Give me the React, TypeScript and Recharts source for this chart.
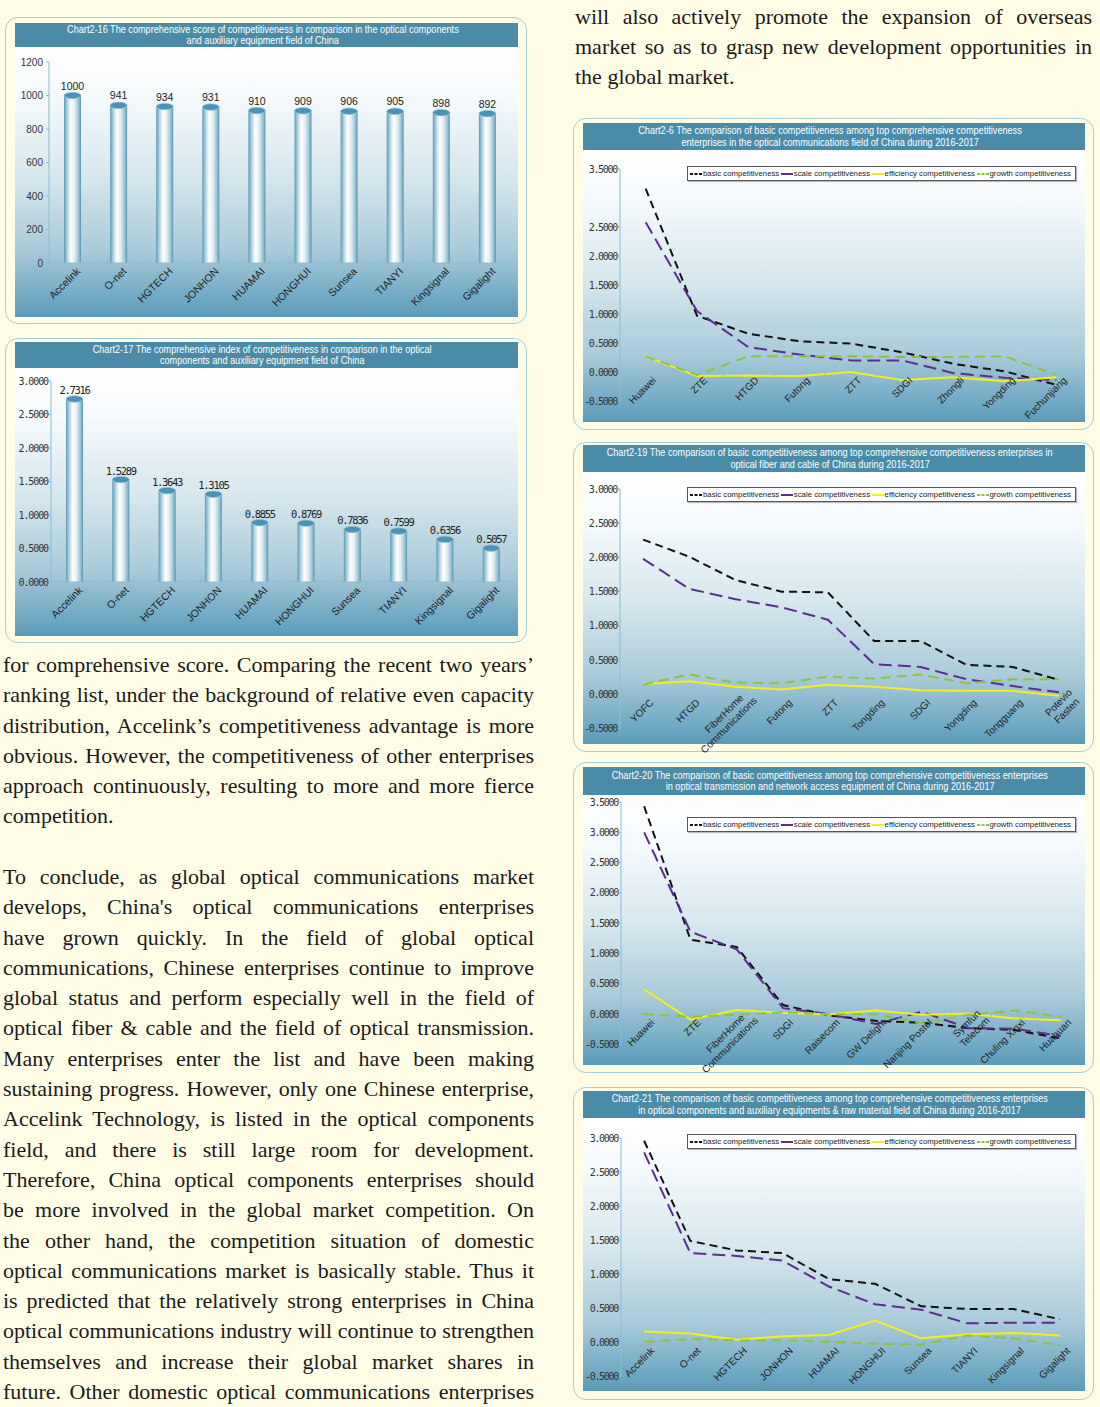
import React from "react";
import {
  BarChart,
  Bar,
  LineChart,
  Line,
  XAxis,
  YAxis,
  ReferenceLine,
  Legend,
} from "recharts";

const PAGE_BG = "#fffde6";
const TITLE_BG = "#4a8ca8";
const AXIS = "#8dbdd0";
const SANS = '"Liberation Sans", Arial, sans-serif';
const MONO = '"DejaVu Sans Mono", monospace';
const SERIF = '"Liberation Serif", "Times New Roman", serif';
const PLOT_BG =
  "linear-gradient(to bottom, #ffffff 0%, #f6fafc 18%, #d6e7ee 48%, #a9cbda 75%, #5b9bb9 100%)";

// ---- chart 2-16 / 2-17: optical components field ----
const componentFirms = ["Accelink", "O-net", "HGTECH", "JONHON", "HUAMAI", "HONGHUI", "Sunsea", "TIANYI", "Kingsignal", "Gigalight"];
const compositeScore = [1000, 941, 934, 931, 910, 909, 906, 905, 898, 892];
const compositeIndex = [2.7316, 1.5289, 1.3643, 1.3105, 0.8855, 0.8769, 0.7836, 0.7599, 0.6356, 0.5057];
const scoreTicks = [0, 200, 400, 600, 800, 1000, 1200];
const indexTicks = [0, 0.5, 1, 1.5, 2, 2.5, 3];

// ---- basic competitiveness series (charts 2-6, 2-19, 2-20, 2-21) ----
const seriesKeys = ["basic", "scale", "efficiency", "growth"];
const seriesNames = ["basic competitiveness", "scale competitiveness", "efficiency competitiveness", "growth competitiveness"];

// chart 2-6
const commFirms = ["Huawei", "ZTE", "HTGD", "Futong", "ZTT", "SDGI", "Zhongli", "Yongding", "Fuchunjiang"];
const commBasic = [3.16, 0.97, 0.66, 0.53, 0.49, 0.34, 0.14, 0.01, -0.22];
const commScale = [2.58, 1.05, 0.43, 0.3, 0.2, 0.2, -0.02, -0.1, -0.14];
const commEfficiency = [0.27, -0.07, -0.06, -0.07, 0.0, -0.14, -0.09, -0.16, -0.09];
const commGrowth = [0.27, -0.05, 0.27, 0.27, 0.27, 0.26, 0.26, 0.27, -0.05];
const commTicks = [-0.5, 0, 0.5, 1, 1.5, 2, 2.5, 3.5];

// chart 2-19
const fiberFirms = ["YOFC", "HTGD", "FiberHome\nCommunications", "Futong", "ZTT", "Tongding", "SDGI", "Yongding", "Tongguang", "Potevio\nFasten"];
const fiberBasic = [2.26, 2.01, 1.67, 1.5, 1.49, 0.78, 0.78, 0.43, 0.4, 0.21];
const fiberScale = [1.98, 1.54, 1.39, 1.27, 1.09, 0.44, 0.4, 0.22, 0.12, 0.03];
const fiberEfficiency = [0.15, 0.19, 0.11, 0.07, 0.14, 0.11, 0.06, 0.05, 0.05, -0.02];
const fiberGrowth = [0.14, 0.29, 0.17, 0.16, 0.26, 0.23, 0.29, 0.16, 0.22, 0.22];
const threeTicks = [-0.5, 0, 0.5, 1, 1.5, 2, 2.5, 3];

// chart 2-20
const transFirms = ["Huawei", "ZTE", "FiberHome\nCommunications", "SDGI", "Raisecom", "GW Delight", "Nanjing Postel", "Symfun\nTelecom", "Chuling Xinxi", "Huahuan"];
const transBasic = [3.43, 1.23, 1.11, 0.15, -0.02, -0.11, -0.14, -0.23, -0.26, -0.4];
const transScale = [3.0, 1.36, 1.07, 0.1, 0.0, -0.16, 0.04, -0.23, -0.24, -0.36];
const transEfficiency = [0.41, -0.09, 0.07, 0.02, 0.0, 0.06, -0.01, 0.01, -0.07, -0.1];
const transGrowth = [0.0, -0.04, -0.01, 0.03, 0.0, 0.0, -0.15, -0.01, 0.06, -0.04];
const transTicks = [-0.5, 0, 0.5, 1, 1.5, 2, 2.5, 3, 3.5];

// chart 2-21
const partBasic = [2.96, 1.49, 1.35, 1.31, 0.93, 0.86, 0.53, 0.49, 0.49, 0.34];
const partScale = [2.79, 1.31, 1.27, 1.2, 0.82, 0.56, 0.48, 0.28, 0.29, 0.29];
const partEfficiency = [0.16, 0.13, 0.04, 0.09, 0.11, 0.32, 0.06, 0.12, 0.14, 0.1];
const partGrowth = [0.01, 0.05, 0.03, 0.03, 0.01, -0.02, -0.03, 0.1, 0.06, -0.04];

const LINE_STYLE: any = {
  basic: { stroke: "#111111", dash: "8 5", legendDash: "3 1.5" },
  scale: { stroke: "#5a2d8f", dash: "13 6", legendDash: undefined },
  efficiency: { stroke: "#f4ee1c", dash: undefined, legendDash: undefined },
  growth: { stroke: "#8cc43e", dash: "10 6", legendDash: "3 1.5" },
};

const barRows = (names: string[], values: number[]) => names.map((name, i) => ({ name, value: values[i] }));
const trendRows = (names: string[], cols: number[][]) =>
  names.map((name, i) => {
    const r: any = { name };
    seriesKeys.forEach((k, j) => (r[k] = cols[j][i]));
    return r;
  });

function SlantTick({ x, y, payload, index, width, visibleTicksCount, dx = 10, dy = 9, lift = 0, size = 9.5 }: any) {
  const lines = String(payload.value).split("\n");
  const multi = lines.length > 1;
  const longest = Math.max(...lines.map((l) => l.length));
  const y0 = y - lift;
  const band = typeof width === "number" && visibleTicksCount ? width / visibleTicksCount : 0;
  return (
    <g>
      {band > 0 && <line x1={x - band / 2} y1={y0} x2={x - band / 2} y2={y0 + 4} stroke={AXIS} />}
      {band > 0 && index === visibleTicksCount - 1 && <line x1={x + band / 2} y1={y0} x2={x + band / 2} y2={y0 + 4} stroke={AXIS} />}
      <g transform={`translate(${x + dx + (multi ? 11 : 0)},${y0 + dy + (multi ? -2 : 0)}) rotate(-45)`}>
        {lines.map((l, i) => (
          <text
            key={i}
            x={-(longest - l.length) * 1.5}
            y={(i - (lines.length - 1)) * 11.5}
            textAnchor="end"
            fontSize={size}
            fontFamily={SANS}
            fill="#222"
          >
            {l}
          </text>
        ))}
      </g>
    </g>
  );
}

function Cylinder(p: any) {
  const { x, y, width, height, gid, fmt, labelFont } = p;
  const cx = x + width / 2;
  return (
    <g>
      <rect x={x} y={y} width={width} height={Math.max(height, 0)} fill={`url(#${gid})`} />
      <ellipse cx={cx} cy={y} rx={width / 2} ry={3.3} fill="#4b93b4" stroke="#a3cddd" strokeWidth={0.7} />
      <text x={cx} y={y - labelFont.gap} textAnchor="middle" fill="#222" fontSize={labelFont.size} fontFamily={labelFont.family} letterSpacing={labelFont.spacing}>
        {fmt(p.payload.value)}
      </text>
    </g>
  );
}

function CylinderChart({ rows, w, h, yW, top, right, xH, max, ticks, fmt, yFont, labelFont, gid }: any) {
  return (
    <BarChart width={w} height={h} data={rows} margin={{ top, right, bottom: 0, left: 0 }}>
      <defs>
        <linearGradient id={gid} x1="0" y1="0" x2="1" y2="0">
          <stop offset="0%" stopColor="#5b9bb8" />
          <stop offset="20%" stopColor="#b5d5e2" />
          <stop offset="40%" stopColor="#ffffff" />
          <stop offset="62%" stopColor="#e2eef3" />
          <stop offset="85%" stopColor="#9cc5d6" />
          <stop offset="100%" stopColor="#5594b2" />
        </linearGradient>
      </defs>
      <XAxis
        dataKey="name"
        height={xH}
        interval={0}
        tickSize={0}
        tickMargin={0}
        tickLine={false}
        axisLine={{ stroke: AXIS }}
        tick={(t: any) => <SlantTick {...t} dx={9} dy={9} size={10.5} />}
      />
      <YAxis
        width={yW}
        type="number"
        domain={[0, max]}
        ticks={ticks}
        interval={0}
        tickSize={3}
        tickMargin={yFont.margin}
        axisLine={{ stroke: AXIS }}
        tickLine={{ stroke: AXIS }}
        tick={{ fontSize: yFont.size, fontFamily: yFont.family, fill: "#333", letterSpacing: yFont.spacing }}
        tickFormatter={fmt}
      />
      <Bar
        dataKey="value"
        barSize={17}
        isAnimationActive={false}
        shape={(b: any) => <Cylinder {...b} gid={gid} fmt={fmt} labelFont={labelFont} />}
      />
    </BarChart>
  );
}

function LegendBox() {
  return (
    <div
      style={{
        width: 389,
        height: 15,
        boxSizing: "border-box",
        border: "1px solid #555",
        boxShadow: "1px 1px 1px rgba(0,0,0,0.25)",
        background: "#ffffff",
        display: "flex",
        alignItems: "center",
        justifyContent: "space-between",
        padding: "0 4px 0 2px",
        fontFamily: SANS,
        fontSize: 7.8,
        color: "#222",
        whiteSpace: "nowrap",
      }}
    >
      {seriesKeys.map((k, i) => (
        <span key={k} style={{ display: "flex", alignItems: "center" }}>
          <svg width={12} height={4} style={{ marginRight: 1 }}>
            <line x1={0} y1={2} x2={12} y2={2} stroke={LINE_STYLE[k].stroke} strokeWidth={2} strokeDasharray={LINE_STYLE[k].legendDash} />
          </svg>
          {seriesNames[i]}
        </span>
      ))}
    </div>
  );
}

// extra room under the plot so slanted labels are not clipped
const LABEL_ROOM = 16;

function TrendChart({ rows, w, h, yW, top, right, xH, min, max, ticks, legendTop }: any) {
  const lift = ((h - top - xH) * (0 - min)) / (max - min);
  return (
    <LineChart width={w} height={h + LABEL_ROOM} data={rows} margin={{ top, right, bottom: 0, left: 0 }}>
      <XAxis
        dataKey="name"
        scale="band"
        height={xH + LABEL_ROOM}
        interval={0}
        tickSize={0}
        tickMargin={0}
        axisLine={false}
        tickLine={false}
        tick={(t: any) => <SlantTick {...t} dx={11} dy={9} lift={lift} size={10} />}
      />
      <YAxis
        width={yW}
        type="number"
        domain={[min, max]}
        ticks={ticks}
        interval={0}
        allowDataOverflow
        tickSize={2}
        tickMargin={1}
        axisLine={{ stroke: AXIS }}
        tickLine={{ stroke: AXIS }}
        tick={{ fontSize: 10, fontFamily: MONO, fill: "#333", letterSpacing: -1.3 }}
        tickFormatter={(v: number) => v.toFixed(4)}
      />
      <ReferenceLine y={0} stroke={AXIS} strokeWidth={1.2} />
      <Legend
        layout="horizontal"
        verticalAlign="middle"
        align="center"
        wrapperStyle={{ left: 104, top: legendTop, width: 389 }}
        content={() => <LegendBox />}
      />
      {seriesKeys.map((k, i) => (
        <Line
          key={k}
          type="linear"
          dataKey={k}
          name={seriesNames[i]}
          stroke={LINE_STYLE[k].stroke}
          strokeWidth={2}
          strokeDasharray={LINE_STYLE[k].dash}
          dot={false}
          activeDot={false}
          isAnimationActive={false}
        />
      ))}
    </LineChart>
  );
}

function Panel({ box, x0, x1, titleY, plotY, plotB, title, children }: any) {
  return (
    <>
      <div
        style={{
          position: "absolute",
          left: box[0],
          top: box[1],
          width: box[2] - box[0],
          height: box[3] - box[1],
          boxSizing: "border-box",
          border: "1.5px solid #a6d0d9",
          borderRadius: 13,
          background: PAGE_BG,
        }}
      />
      <div
        style={{
          position: "absolute",
          left: x0,
          top: titleY,
          width: x1 - x0,
          height: plotY - titleY,
          background: TITLE_BG,
          color: "#fff",
          display: "flex",
          flexDirection: "column",
          justifyContent: "center",
          alignItems: "center",
          paddingRight: 8,
          boxSizing: "border-box",
          fontFamily: SANS,
          fontSize: 11,
          lineHeight: "11.5px",
        }}
      >
        {title.map((t: string, i: number) => (
          <div key={i} style={{ whiteSpace: "nowrap", transform: "scaleX(0.83)" }}>
            {t}
          </div>
        ))}
      </div>
      <div style={{ position: "absolute", left: x0, top: plotY, width: x1 - x0, height: plotB - plotY, background: PLOT_BG }}>
        {children}
      </div>
    </>
  );
}

function TextLines({ left, top, width, lines, ragged }: any) {
  return (
    <div style={{ position: "absolute", left, top, width, fontFamily: SERIF, fontSize: 22, lineHeight: "30.3px", color: "#1a1a1a" }}>
      {lines.map((t: string, i: number) => {
        const justify = !(ragged && i === lines.length - 1);
        return (
          <div key={i} style={{ whiteSpace: "nowrap", textAlign: justify ? "justify" : "left", textAlignLast: justify ? "justify" : "left" }}>
            {t}
          </div>
        );
      })}
    </div>
  );
}

const topRightText = [
  "will also actively promote the expansion of overseas",
  "market so as to grasp new development opportunities in",
  "the global market.",
];
const paraOne = [
  "for comprehensive score. Comparing the recent two years’",
  "ranking list, under the background of relative even capacity",
  "distribution, Accelink’s competitiveness advantage is more",
  "obvious. However, the competitiveness of other enterprises",
  "approach continuously, resulting to more and more fierce",
  "competition.",
];
const paraTwo = [
  "To conclude, as global optical communications market",
  "develops, China's optical communications enterprises",
  "have grown quickly. In the field of global optical",
  "communications, Chinese enterprises continue to improve",
  "global status and perform especially well in the field of",
  "optical fiber & cable and the field of optical transmission.",
  "Many enterprises enter the list and have been making",
  "sustaining progress. However, only one Chinese enterprise,",
  "Accelink Technology, is listed in the optical components",
  "field, and there is still large room for development.",
  "Therefore, China optical components enterprises should",
  "be more involved in the global market competition. On",
  "the other hand, the competition situation of domestic",
  "optical communications market is basically stable. Thus it",
  "is predicted that the relatively strong enterprises in China",
  "optical communications industry will continue to strengthen",
  "themselves and increase their global market shares in",
  "future. Other domestic optical communications enterprises",
];

export default function App() {
  const intFmt = (v: number) => String(v);
  const fourFmt = (v: number) => v.toFixed(4);
  return (
    <div style={{ position: "absolute", left: 0, top: 0, width: 1100, height: 1407, background: PAGE_BG, overflow: "hidden" }}>
      <TextLines left={575} top={1.5} width={517} lines={topRightText} ragged />
      <TextLines left={3} top={650} width={531} lines={paraOne} ragged />
      <TextLines left={3} top={862} width={531} lines={paraTwo} />

      <Panel
        box={[5, 17, 527, 324]}
        x0={15}
        x1={518}
        titleY={23}
        plotY={47}
        plotB={317}
        title={["Chart2-16 The comprehensive score of competitiveness in comparison in the optical components", "and auxiliary equipment field of China"]}
      >
        <CylinderChart
          rows={barRows(componentFirms, compositeScore)}
          w={503}
          h={270}
          yW={34}
          top={15}
          right={8}
          xH={54}
          max={1200}
          ticks={scoreTicks}
          fmt={intFmt}
          yFont={{ size: 10, family: SANS, spacing: 0, margin: 3 }}
          labelFont={{ size: 10.5, family: SANS, spacing: 0, gap: 6 }}
          gid="cyl16"
        />
      </Panel>

      <Panel
        box={[5, 338, 527, 643]}
        x0={15}
        x1={518}
        titleY={342}
        plotY={368}
        plotB={636}
        title={["Chart2-17 The comprehensive index of competitiveness in comparison in the optical", "components and auxiliary equipment field of China"]}
      >
        <CylinderChart
          rows={barRows(componentFirms, compositeIndex)}
          w={503}
          h={268}
          yW={36}
          top={13}
          right={4}
          xH={54}
          max={3}
          ticks={indexTicks}
          fmt={fourFmt}
          yFont={{ size: 10, family: MONO, spacing: -1.1, margin: 0 }}
          labelFont={{ size: 10.5, family: MONO, spacing: -1.3, gap: 5 }}
          gid="cyl17"
        />
      </Panel>

      <Panel
        box={[573, 118, 1094, 430]}
        x0={583}
        x1={1085}
        titleY={123}
        plotY={150}
        plotB={422}
        title={["Chart2-6 The comparison of basic competitiveness among top comprehensive competitiveness", "enterprises in the optical communications field of China during 2016-2017"]}
      >
        <TrendChart
          rows={trendRows(commFirms, [commBasic, commScale, commEfficiency, commGrowth])}
          w={502}
          h={272}
          yW={37}
          top={19}
          right={3}
          xH={21}
          min={-0.5}
          max={3.5}
          ticks={commTicks}
          legendTop={16}
        />
      </Panel>

      <Panel
        box={[573, 442, 1094, 752]}
        x0={583}
        x1={1085}
        titleY={445}
        plotY={472}
        plotB={744}
        title={["Chart2-19 The comparison of basic competitiveness among top comprehensive competitiveness enterprises in", "optical fiber and cable of China during 2016-2017"]}
      >
        <TrendChart
          rows={trendRows(fiberFirms, [fiberBasic, fiberScale, fiberEfficiency, fiberGrowth])}
          w={502}
          h={272}
          yW={37}
          top={17}
          right={3}
          xH={15.5}
          min={-0.5}
          max={3}
          ticks={threeTicks}
          legendTop={15}
        />
      </Panel>

      <Panel
        box={[573, 762, 1094, 1073]}
        x0={583}
        x1={1085}
        titleY={767}
        plotY={795}
        plotB={1065}
        title={["Chart2-20 The comparison of basic competitiveness among top comprehensive competitiveness enterprises", "in optical transmission and network access equipment of China during 2016-2017"]}
      >
        <TrendChart
          rows={trendRows(transFirms, [transBasic, transScale, transEfficiency, transGrowth])}
          w={502}
          h={270}
          yW={38}
          top={7}
          right={1}
          xH={20.5}
          min={-0.5}
          max={3.5}
          ticks={transTicks}
          legendTop={22}
        />
      </Panel>

      <Panel
        box={[573, 1087, 1094, 1400]}
        x0={583}
        x1={1085}
        titleY={1091}
        plotY={1118}
        plotB={1391}
        title={["Chart2-21 The comparison of basic competitiveness among top comprehensive competitiveness enterprises", "in optical components and auxiliary equipments & raw material field of China during 2016-2017"]}
      >
        <TrendChart
          rows={trendRows(componentFirms, [partBasic, partScale, partEfficiency, partGrowth])}
          w={502}
          h={273}
          yW={38}
          top={20}
          right={2}
          xH={14.5}
          min={-0.5}
          max={3}
          ticks={threeTicks}
          legendTop={16}
        />
      </Panel>
    </div>
  );
}
